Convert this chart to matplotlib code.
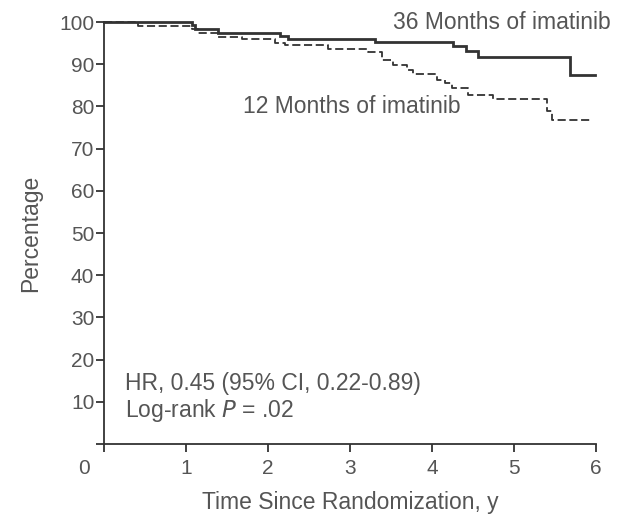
"""Kaplan-Meier style survival curves: 36 vs 12 months of imatinib."""
import matplotlib
matplotlib.use("Agg")
import matplotlib.pyplot as plt
import matplotlib.transforms as mtransforms

# step times (years) and survival (%)
months36_t = [0, 1.07, 1.11, 1.39, 2.15, 2.24, 3.30, 4.25, 4.42, 4.56, 5.68, 5.99]
months36_y = [100, 99.2, 98.3, 97.5, 96.6, 95.9, 95.2, 94.3, 93.1, 91.7, 87.4, 87.4]

months12_t = [0, 0.42, 1.07, 1.15, 1.39, 1.68, 2.09, 2.21, 2.73, 3.22, 3.39, 3.53,
              3.69, 3.77, 4.06, 4.16, 4.24, 4.44, 4.74, 5.40, 5.46, 5.93]
months12_y = [100, 99.0, 98.3, 97.3, 96.5, 95.9, 95.1, 94.5, 93.5, 93.0, 91.0, 89.8,
              88.6, 87.8, 86.3, 85.5, 84.3, 82.7, 81.7, 79.0, 76.8, 76.8]

x_ticks = [0, 1, 2, 3, 4, 5, 6]
y_ticks = [0, 10, 20, 30, 40, 50, 60, 70, 80, 90, 100]

TEXT = "#555555"
LINE = "#333333"

plt.rcParams["font.family"] = "sans-serif"
plt.rcParams["font.sans-serif"] = ["Liberation Sans", "DejaVu Sans"]

fig = plt.figure(figsize=(6.17, 5.17), dpi=100)
ax = fig.add_axes([0.1686, 0.1412, 0.966 - 0.1686, 0.9574 - 0.1412])

ax.step(months36_t, months36_y, where="post", color=LINE, lw=2.0,
        solid_joinstyle="miter", clip_on=False)
ax.step(months12_t, months12_y, where="post", color=LINE, lw=1.3,
        dashes=(4.5, 2), clip_on=False)

ax.set_xlim(0, 6)
ax.set_ylim(0, 100)
ax.set_xticks(x_ticks)
ax.set_yticks(y_ticks)
ax.set_yticklabels([""] + [str(v) for v in y_ticks[1:]])

for side in ("top", "right"):
    ax.spines[side].set_visible(False)
for side in ("left", "bottom"):
    ax.spines[side].set_color(LINE)
    ax.spines[side].set_linewidth(1.3)

ax.tick_params(axis="both", colors=LINE, labelcolor=TEXT, labelsize=15,
               width=1.3, direction="out")
ax.tick_params(axis="y", length=5.5, pad=1.5)
ax.tick_params(axis="x", length=6, pad=5)

# the origin label sits left of its tick
offset = mtransforms.ScaledTranslation(-0.2, 0, fig.dpi_scale_trans)
lbl0 = ax.get_xticklabels()[0]
lbl0.set_transform(lbl0.get_transform() + offset)

ax.set_xlabel("Time Since Randomization, y", fontsize=16.5, color=TEXT, labelpad=9)
ax.set_ylabel("Percentage", fontsize=16.5, color=TEXT, labelpad=12)

ax.text(3.52, 100, "36 Months of imatinib", fontsize=16.5, color=TEXT,
        va="center", ha="left", clip_on=False)
ax.text(1.7, 80, "12 Months of imatinib", fontsize=16.5, color=TEXT,
        va="center", ha="left")

ax.text(0.26, 14.4, "HR, 0.45 (95% CI, 0.22-0.89)", fontsize=16.5, color=TEXT,
        va="center", ha="left")
ax.text(0.26, 8.0, "Log-rank $\\it{P}$ = .02", fontsize=16.5, color=TEXT,
        va="center", ha="left")

fig.savefig("out.png", dpi=100)
